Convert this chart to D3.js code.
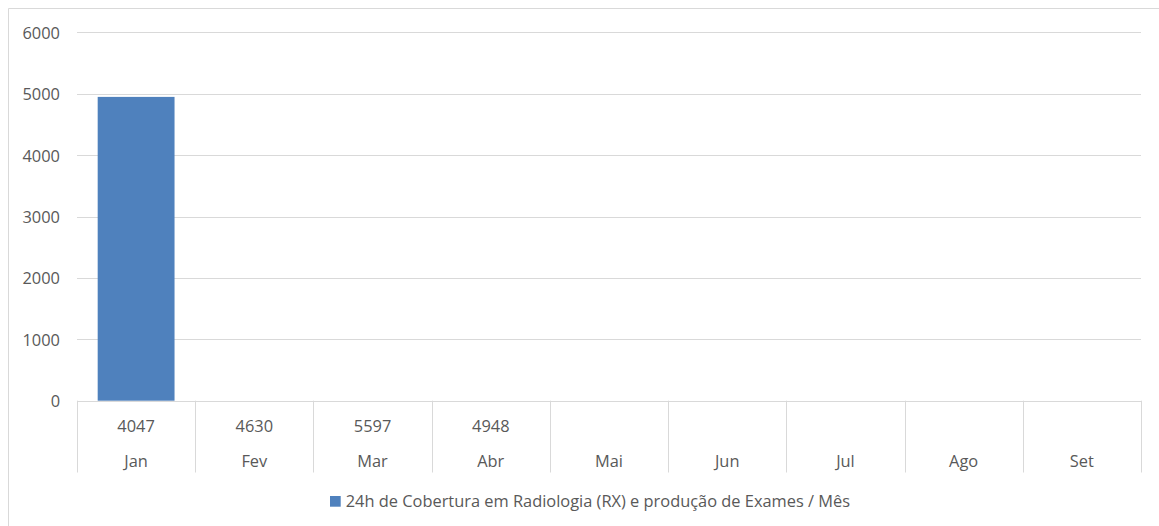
<!DOCTYPE html>
<html><head><meta charset="utf-8">
<script src="https://cdn.jsdelivr.net/npm/d3@7"></script>
<style>body{margin:0;background:#fff}svg{display:block}</style>
</head><body><svg id="c" width="1159" height="526"></svg>
<script>
const categories = ["Jan","Fev","Mar","Abr","Mai","Jun","Jul","Ago","Set"];
const barValues = [4948, null, null, null, null, null, null, null, null];
const tableValues = ["4047","4630","5597","4948","","","","",""];
const yTicks = [0,1000,2000,3000,4000,5000,6000];
const seriesName = "24h de Cobertura em Radiologia (RX) e produção de Exames / Mês";

const svg = d3.select("#c");
const font = "'Open Sans', 'Liberation Sans', sans-serif";
const fs = 16.4;
const L = 77, R = 1141, T = 32.3, B = 400.7, tableBottom = 472.5;
const x = d3.scaleBand().domain(categories).range([L, R]).paddingInner(0.35).paddingOuter(0.175);
const xc = d3.scaleBand().domain(categories).range([L, R]);
const y = d3.scaleLinear().domain([0, 6000]).range([B, T]);

// outer border (cropped on right/bottom)
svg.append("path").attr("d", `M8.5,600 V8.5 H1200`).attr("fill","none").attr("stroke","#d9d9d9").attr("stroke-width",1);

// gridlines
svg.append("g").selectAll("line").data(yTicks.filter(d=>d>0)).join("line")
  .attr("x1", L).attr("x2", R).attr("y1", d=>Math.round(y(d))+0.5).attr("y2", d=>Math.round(y(d))+0.5)
  .attr("stroke","#d9d9d9").attr("stroke-width",1);

// y axis labels
svg.append("g").selectAll("text").data(yTicks).join("text")
  .attr("x", 60).attr("y", d=>y(d)+6.5).attr("text-anchor","end")
  .attr("font-family", font).attr("font-size", fs).attr("fill","#595959").text(d=>d);

// bars
svg.append("g").selectAll("rect").data(categories.map((c,i)=>({c, v: barValues[i]})).filter(d=>d.v!=null)).join("rect")
  .attr("x", d=>x(d.c)).attr("width", x.bandwidth())
  .attr("y", d=>y(d.v)).attr("height", d=>y(0)-y(d.v)).attr("fill","#4f81bd");

// table / axis
const tg = svg.append("g");
tg.append("line").attr("x1", L).attr("x2", R).attr("y1", Math.round(B)+0.5).attr("y2", Math.round(B)+0.5).attr("stroke","#d9d9d9");
const bounds = categories.map(c=>xc(c)).concat([R]);
tg.selectAll("line.v").data(bounds).join("line").attr("class","v")
  .attr("x1", d=>Math.round(d)+0.5).attr("x2", d=>Math.round(d)+0.5)
  .attr("y1", B).attr("y2", tableBottom).attr("stroke","#d9d9d9");
tg.selectAll("text.val").data(categories).join("text").attr("class","val")
  .attr("x", (d)=>xc(d)+xc.bandwidth()/2).attr("y", 431.5).attr("text-anchor","middle")
  .attr("font-family", font).attr("font-size", fs).attr("fill","#595959")
  .text((d,i)=>tableValues[i]);
tg.selectAll("text.cat").data(categories).join("text").attr("class","cat")
  .attr("x", (d)=>xc(d)+xc.bandwidth()/2).attr("y", 467.3).attr("text-anchor","middle")
  .attr("font-family", font).attr("font-size", fs).attr("fill","#595959")
  .text(d=>d);

// legend
const lg = svg.append("g");
lg.append("rect").attr("x", 330).attr("y", 496).attr("width", 10.7).attr("height", 10.7).attr("fill","#4f81bd");
lg.append("text").attr("x", 345.7).attr("y", 506.5).attr("font-family", font).attr("font-size", fs)
  .attr("fill","#595959").text(seriesName);
</script></body></html>
